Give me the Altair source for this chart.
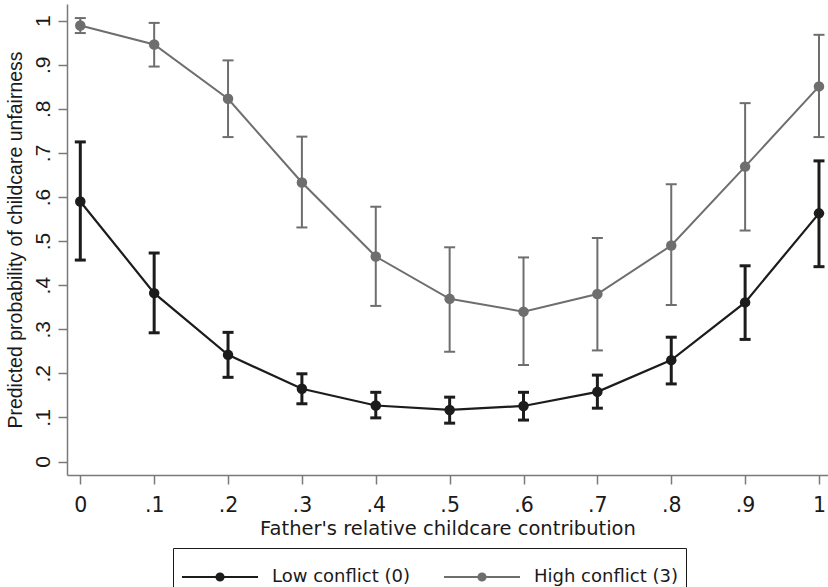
import altair as alt
import pandas as pd

# ---------------- data ----------------
x_vals = [0.0, 0.1, 0.2, 0.3, 0.4, 0.5, 0.6, 0.7, 0.8, 0.9, 1.0]
x_tick_labels = ["0", ".1", ".2", ".3", ".4", ".5", ".6", ".7", ".8", ".9", "1"]
y_tick_labels = ["0", ".1", ".2", ".3", ".4", ".5", ".6", ".7", ".8", ".9", "1"]

series_names = ["Low conflict (0)", "High conflict (3)"]

low_mean = [0.590, 0.382, 0.242, 0.165, 0.127, 0.117, 0.126, 0.158, 0.230, 0.361, 0.563]
low_lo = [0.457, 0.292, 0.191, 0.131, 0.099, 0.087, 0.094, 0.121, 0.176, 0.277, 0.442]
low_hi = [0.725, 0.473, 0.293, 0.199, 0.157, 0.146, 0.157, 0.196, 0.282, 0.444, 0.682]

high_mean = [0.989, 0.946, 0.823, 0.633, 0.465, 0.369, 0.340, 0.380, 0.490, 0.669, 0.851]
high_lo = [0.972, 0.896, 0.736, 0.531, 0.353, 0.249, 0.219, 0.252, 0.355, 0.524, 0.736]
high_hi = [1.006, 0.995, 0.910, 0.737, 0.578, 0.486, 0.463, 0.507, 0.629, 0.813, 0.968]

colors = ["#1c1c1c", "#6e6e6e"]

rows = []
for name, m, lo, hi in [
    (series_names[0], low_mean, low_lo, low_hi),
    (series_names[1], high_mean, high_lo, high_hi),
]:
    for xv, mv, lv, hv in zip(x_vals, m, lo, hi):
        rows.append({"x": xv, "mean": mv, "lo": lv, "hi": hv, "series": name})
df = pd.DataFrame(rows)

FONT = "Liberation Sans"
HFONT = "DejaVu Sans"

x_label_expr = "[" + ",".join("'%s'" % s for s in x_tick_labels) + "][round(datum.value*10)]"
y_label_expr = "[" + ",".join("'%s'" % s for s in y_tick_labels) + "][round(datum.value*10)]"

x_enc = alt.X(
    "x:Q",
    scale=alt.Scale(domain=[-0.018, 1.0122], nice=False, zero=False),
    axis=alt.Axis(
        values=x_vals,
        labelExpr=x_label_expr,
        title="Father's relative childcare contribution",
        grid=False,
        domainColor="#7a7a7a",
        domainWidth=1.5,
        tickColor="#7a7a7a",
        tickWidth=1.5,
        tickSize=9,
        labelFont=HFONT,
        labelFontSize=20.5,
        labelPadding=11,
        labelColor="#1a1a1a",
        titleFont=HFONT,
        titleFontSize=19.5,
        titleFontWeight="normal",
        titleColor="#1a1a1a",
        titlePadding=4,
    ),
)

y_axis = alt.Axis(
    values=x_vals,
    labelExpr=y_label_expr,
    title="Predicted probability of childcare unfairness",
    grid=False,
    domainColor="#7a7a7a",
    domainWidth=1.5,
    tickColor="#7a7a7a",
    tickWidth=1.5,
    tickSize=9,
    labelAngle=270,
    labelFontSize=21,
    labelPadding=5,
    labelColor="#1a1a1a",
    titleFontSize=19.5,
    titleFontWeight="normal",
    titleColor="#1a1a1a",
    titlePadding=7,
)
y_scale = alt.Scale(domain=[-0.0306, 1.0379], nice=False, zero=False)

legend_path = "M-1,0H2.8M1.08,0A0.18,0.18 0 1,1 0.72,0A0.18,0.18 0 1,1 1.08,0Z"

color_enc = alt.Color(
    "series:N",
    scale=alt.Scale(domain=series_names, range=colors),
    legend=alt.Legend(
        title=None,
        orient="none",
        legendX=106,
        legendY=544,
        direction="horizontal",
        symbolType=legend_path,
        symbolSize=1600,
        symbolStrokeWidth=2,
        symbolOpacity=1,
        labelFont=HFONT,
        labelFontSize=18,
        labelColor="#1a1a1a",
        labelOffset=49,
        columnPadding=30,
        padding=8,
        strokeColor="#1a1a1a",
        fillColor="white",
    ),
)

layers = []
for name, sw_bar, sw_line in [(series_names[1], 2, 2), (series_names[0], 3, 2.2)]:
    sub = alt.Chart(df).transform_filter(alt.datum.series == name)
    pts = sub.mark_point(filled=True, size=110, opacity=1).encode(
        x=x_enc, y=alt.Y("mean:Q", scale=y_scale, axis=y_axis), color=color_enc
    )
    rule = sub.mark_rule(strokeWidth=sw_bar, opacity=1).encode(
        x=x_enc, y=alt.Y("lo:Q", scale=y_scale, axis=y_axis), y2="hi:Q", color=color_enc
    )
    cap_lo = sub.mark_tick(orient="horizontal", size=11, thickness=sw_bar, opacity=1).encode(
        x=x_enc, y=alt.Y("lo:Q", scale=y_scale, axis=y_axis), color=color_enc
    )
    cap_hi = sub.mark_tick(orient="horizontal", size=11, thickness=sw_bar, opacity=1).encode(
        x=x_enc, y=alt.Y("hi:Q", scale=y_scale, axis=y_axis), color=color_enc
    )
    line = sub.mark_line(strokeWidth=sw_line, opacity=1).encode(
        x=x_enc, y=alt.Y("mean:Q", scale=y_scale, axis=y_axis), color=color_enc
    )
    layers += [line, rule, cap_lo, cap_hi, pts]

chart = (
    alt.layer(*layers)
    .properties(
        width=761,
        height=471,
        autosize=alt.AutoSizeParams(type="none"),
        padding={"left": 67, "top": 4, "right": 0, "bottom": 112},
        background="white",
    )
    .configure(font=FONT)
    .configure_view(stroke=None)
)

chart.save("out.html", embed_options={"renderer": "svg", "actions": False})
